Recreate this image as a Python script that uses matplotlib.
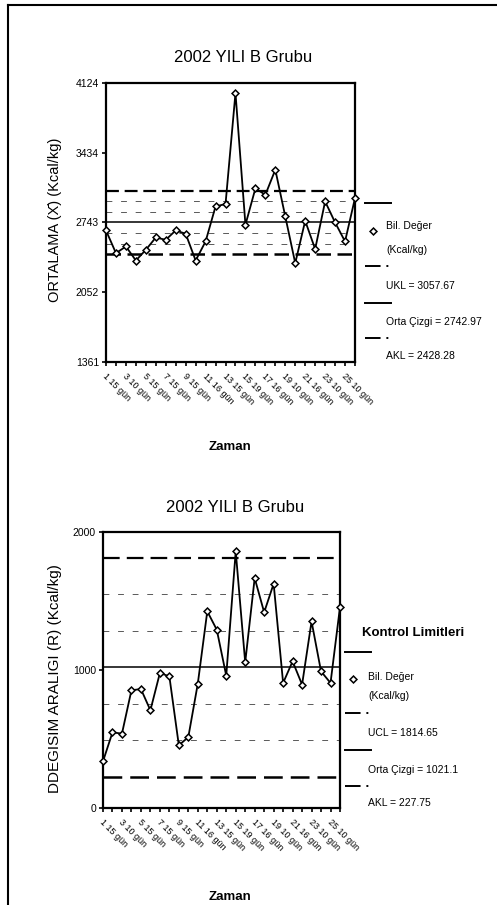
import matplotlib
matplotlib.use('Agg')
import matplotlib.pyplot as plt
from matplotlib.lines import Line2D

plt.rcParams['font.family'] = ['Liberation Sans', 'DejaVu Sans']

###----------------------------------------------------------------------------
### data
periods = list(range(1, 27))
tick_pos = list(range(1, 27, 2))
tick_labels = ['1 15 gün', '3 10 gün', '5 15 gün', '7 15 gün', '9 15 gün',
               '11 16 gün', '13 15 gün', '15 19 gün', '17 16 gün', '19 10 gün',
               '21 16 gün', '23 10 gün', '25 10 gün']

ortalama = [2664, 2439, 2505, 2366, 2472, 2594, 2571, 2664, 2631, 2366, 2555,
            2902, 2925, 4025, 2720, 3080, 3017, 3265, 2802, 2340, 2759, 2479,
            2951, 2743, 2555, 2984]
x_ukl, x_orta, x_akl = 3057.67, 2742.97, 2428.28
x_yticks = [1361, 2052, 2743, 3434, 4124]

degisim = [338, 548, 539, 853, 862, 708, 978, 954, 454, 514, 901, 1425, 1292,
           959, 1860, 1055, 1666, 1418, 1625, 906, 1063, 894, 1352, 990, 906, 1456]
r_ucl, r_orta, r_akl = 1814.65, 1021.1, 227.75
r_yticks = [0, 1000, 2000]

W, H = 497, 905
def fx(x):
    return x / W
def fy(y):
    return 1 - y / H

###----------------------------------------------------------------------------
fig = plt.figure(figsize=(W / 100, H / 100), dpi=100)
ax1 = fig.add_axes([fx(106), fy(362), fx(355) - fx(106), fy(83) - fy(362)])
ax2 = fig.add_axes([fx(103), fy(808), fx(340) - fx(103), fy(532) - fy(808)])


def control_chart(ax, vals, ucl, cl, lcl, yticks, dash):
    sig = (ucl - cl) / 3.0
    for k in (-2, -1, 1, 2):
        ax.axhline(cl + k * sig, color='0.35', lw=0.7, ls=(0, (6, 9)), zorder=1)
    ax.axhline(ucl, color='k', lw=1.6, ls=(0, dash), zorder=2)
    ax.axhline(lcl, color='k', lw=1.8, ls=(0, dash), zorder=2)
    ax.axhline(cl, color='k', lw=1.1, zorder=2)
    ax.plot(periods, vals, '-', color='k', lw=1.3, marker='D', ms=3.5,
            mfc='white', mec='k', mew=1.1, zorder=3, clip_on=False)
    ax.set_xlim(1, 26)
    ax.set_ylim(yticks[0], yticks[-1])
    ax.set_yticks(yticks)
    ax.set_yticklabels([str(t) for t in yticks], fontsize=7.5)
    ax.set_xticks(periods)
    ax.set_xticklabels(['' for p in periods])
    ax.tick_params(axis='both', direction='out', length=3, width=1.2, pad=2)
    for s in ax.spines.values():
        s.set_linewidth(1.6)
    for p, lab in zip(tick_pos, tick_labels):
        ax.annotate(lab, xy=(p, yticks[0]), xycoords='data', xytext=(1, -7),
                    textcoords='offset points', rotation=-45,
                    rotation_mode='anchor', ha='left', va='top', fontsize=6.5,
                    annotation_clip=False)


control_chart(ax1, ortalama, x_ukl, x_orta, x_akl, x_yticks, (5.8, 2.6))
control_chart(ax2, degisim, r_ucl, r_orta, r_akl, r_yticks, (7.5, 3.2))

### titles and axis names
fig.text(fx(243), fy(58), '2002 YILI B Grubu', ha='center', va='center', fontsize=12)
fig.text(fx(235), fy(508), '2002 YILI B Grubu', ha='center', va='center', fontsize=12)
fig.text(fx(230), fy(447), 'Zaman', ha='center', va='center', fontsize=9.5, weight='bold')
fig.text(fx(230), fy(897), 'Zaman', ha='center', va='center', fontsize=9.5, weight='bold')
fig.text(fx(55), fy(220), 'ORTALAMA (X\u0304) (Kcal/kg)', rotation=90,
         ha='center', va='center', fontsize=10.5)
fig.text(fx(55), fy(679), 'DDEGISIM ARALIGI (R) (Kcal/kg)', rotation=90,
         ha='center', va='center', fontsize=11)


### legends drawn by hand, the scanned ones put the handle above each label
def legend_block(x0, xt, rows, texts, fs=7.5):
    (y_line0, y_mark, y_t1, y_t2, y_d1, y_u, y_s, y_o, y_d2, y_a) = rows
    dash_dot = (0, (8, 3, 1, 20))
    fig.add_artist(Line2D([fx(x0), fx(x0 + 26)], [fy(y_line0)] * 2, color='k', lw=1.4))
    fig.add_artist(Line2D([fx(x0 + 8)], [fy(y_mark)], marker='D', ms=3.5,
                          mfc='white', mec='k', mew=1.1, ls='none'))
    fig.text(fx(xt), fy(y_t1), texts[0], va='center', ha='left', fontsize=fs)
    fig.text(fx(xt), fy(y_t2), texts[1], va='center', ha='left', fontsize=fs)
    fig.add_artist(Line2D([fx(x0), fx(x0 + 26)], [fy(y_d1)] * 2, color='k', lw=1.4,
                          ls=dash_dot))
    fig.text(fx(xt), fy(y_u), texts[2], va='center', ha='left', fontsize=fs)
    fig.add_artist(Line2D([fx(x0), fx(x0 + 26)], [fy(y_s)] * 2, color='k', lw=1.4))
    fig.text(fx(xt), fy(y_o), texts[3], va='center', ha='left', fontsize=fs)
    fig.add_artist(Line2D([fx(x0), fx(x0 + 26)], [fy(y_d2)] * 2, color='k', lw=1.4,
                          ls=dash_dot))
    fig.text(fx(xt), fy(y_a), texts[4], va='center', ha='left', fontsize=fs)


legend_block(365, 386, (203, 231, 226, 250, 266, 286, 303, 322, 338, 356),
             ['Bil. Değer', '(Kcal/kg)', 'UKL = %.2f' % x_ukl,
              'Orta Çizgi = %.2f' % x_orta, 'AKL = %.2f' % x_akl])
fig.text(fx(362), fy(633), 'Kontrol Limitleri', va='center', ha='left',
         fontsize=9.5, weight='bold')
legend_block(345, 368, (652, 679, 677, 696, 713, 733, 750, 770, 786, 803),
             ['Bil. Değer', '(Kcal/kg)', 'UCL = %.2f' % r_ucl,
              'Orta Çizgi = %.1f' % r_orta, 'AKL = %.2f' % r_akl])

### scanned page border
fig.add_artist(Line2D([fx(8), fx(8)], [fy(5), fy(905)], color='k', lw=1.5))
fig.add_artist(Line2D([fx(8), fx(497)], [fy(5), fy(5)], color='k', lw=1.5))

fig.savefig('out.png', dpi=100)
